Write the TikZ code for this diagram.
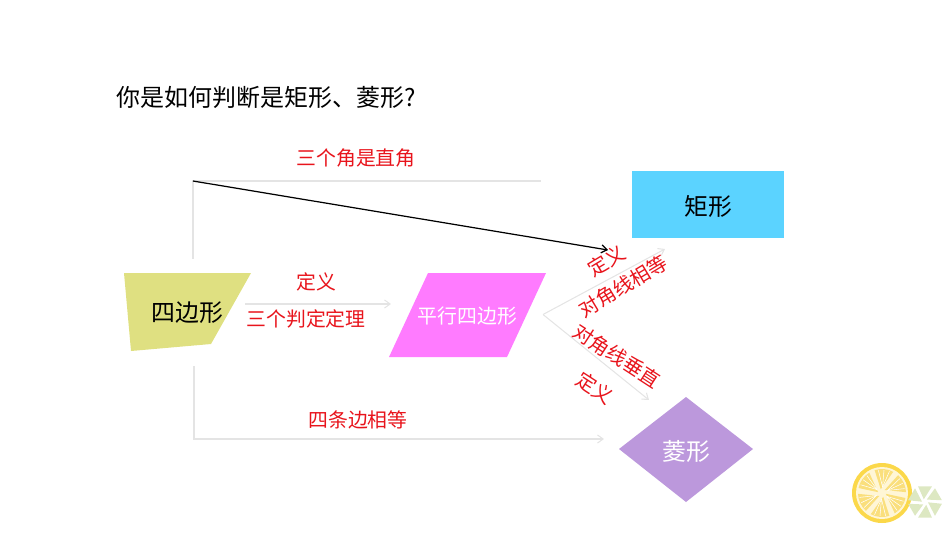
\documentclass[tikz,border=0pt]{standalone}
\usepackage{fontspec}
\setmainfont{Noto Sans CJK SC}
\usetikzlibrary{calc,positioning,arrows.meta}
\definecolor{linegray}{HTML}{E4E4E4}
\definecolor{labelred}{HTML}{E8141C}
\definecolor{quadyellow}{HTML}{DFE081}
\definecolor{paramagenta}{HTML}{FF7BFF}
\definecolor{rectblue}{HTML}{5BD3FF}
\definecolor{rhombpurple}{HTML}{BC98DC}
\definecolor{lemonrim}{HTML}{FBD84A}
\definecolor{lemonflesh}{HTML}{FFF6D6}
\definecolor{lemonseg}{HTML}{FADF7C}
\definecolor{limeseg}{HTML}{DDE8C2}
\tikzset{
  redlabel/.style={text=labelred,inner sep=0pt,font=\fontsize{11.3}{13}\selectfont},
  shapelabel/.style={inner sep=0pt,font=\fontsize{13.6}{16}\selectfont},
  grayline/.style={draw=linegray,line width=0.6pt},
  >={Straight Barb[length=3.2pt,width=4.6pt]},
}
\begin{document}
\begin{tikzpicture}[x=0.02cm,y=-0.02cm]
  \useasboundingbox (0,0) rectangle (950,535);
  \coordinate (Qt) at (193,259);
  \coordinate (Qc) at (193,181);
  \coordinate (Te) at (541,181);
  \coordinate (Be) at (608,250);
  \coordinate (Ms) at (245,304);
  \coordinate (Me) at (391,304);
  \coordinate (Qb) at (194,366);
  \coordinate (Bc) at (194,439);
  \coordinate (De) at (604,439);
  \coordinate (F) at (543,314.5);
  \coordinate (Fr) at (665,249);
  \coordinate (Fd) at (649,400);
  \fill[quadyellow] (124,273) -- (251,273) -- (211,344) -- (131,351) -- cycle;
  \fill[paramagenta] (428,273) -- (546,273) -- (507,357) -- (389,357) -- cycle;
  \fill[rectblue] (632,171) rectangle (783.5,238);
  \fill[rhombpurple] (619,449) -- (686,397) -- (753,449) -- (686,502) -- cycle;
  \draw[grayline] (Qt) -- (Qc) -- (Te);
  \draw[grayline,->] (Ms) -- (Me);
  \draw[grayline,->] (Qb) -- (Bc) -- (De);
  \draw[grayline,->] (F) -- (Fr);
  \draw[grayline,->] (F) -- (Fd);
  \draw[->,line width=0.7pt] (Qc) -- (Be);
  \node[inner sep=0pt,font=\fontsize{13.65}{16}\selectfont] (title) at (266,97) {你是如何判断是矩形、菱形?};
  \node[redlabel] (angles) at (356,158) {三个角是直角};
  \node[redlabel] (def) at (316.5,282) {定义};
  \node[redlabel] (three) at (306,319) {三个判定定理};
  \node[redlabel] (sides) at (358,420) {四条边相等};
  \node[redlabel,rotate=31] (defrect) at (607,261) {定义};
  \node[redlabel,rotate=31] (diagrect) at (623,286) {对角线相等};
  \node[redlabel,rotate=-33] (diagrhomb) at (617,356) {对角线垂直};
  \node[redlabel,rotate=-33] (defrhomb) at (595,388) {定义};
  \node[shapelabel] (quad) at (187.5,313) {四边形};
  \node[redlabel,text=white] (para) at (467.5,316) {平行四边形};
  \node[shapelabel] (rect) at (708,206) {矩形};
  \node[shapelabel,text=white] (rhomb) at (686,451) {菱形};
  \begin{scope}[shift={(882,493)}]
    \fill[lemonrim] (0,0) circle (30);
    \fill[lemonflesh] (0,0) circle (26);
    \foreach \a in {-55,5,65,125,185,245} {
      \fill[lemonseg] (\a+7:4) -- (\a+7:24) arc (\a+7:\a+53:24) -- cycle;
      \foreach \b in {16,30,44}
        \draw[white,line width=0.3pt] (\a+30:6) -- (\a+\b:23);
    }
  \end{scope}
  \begin{scope}[shift={(925,502)}]
    \foreach \a in {0,60,120,180,240,300}
      \fill[limeseg] (\a+6:3) -- (\a+6:17) -- (\a+54:17) -- cycle;
  \end{scope}
\end{tikzpicture}
\end{document}
